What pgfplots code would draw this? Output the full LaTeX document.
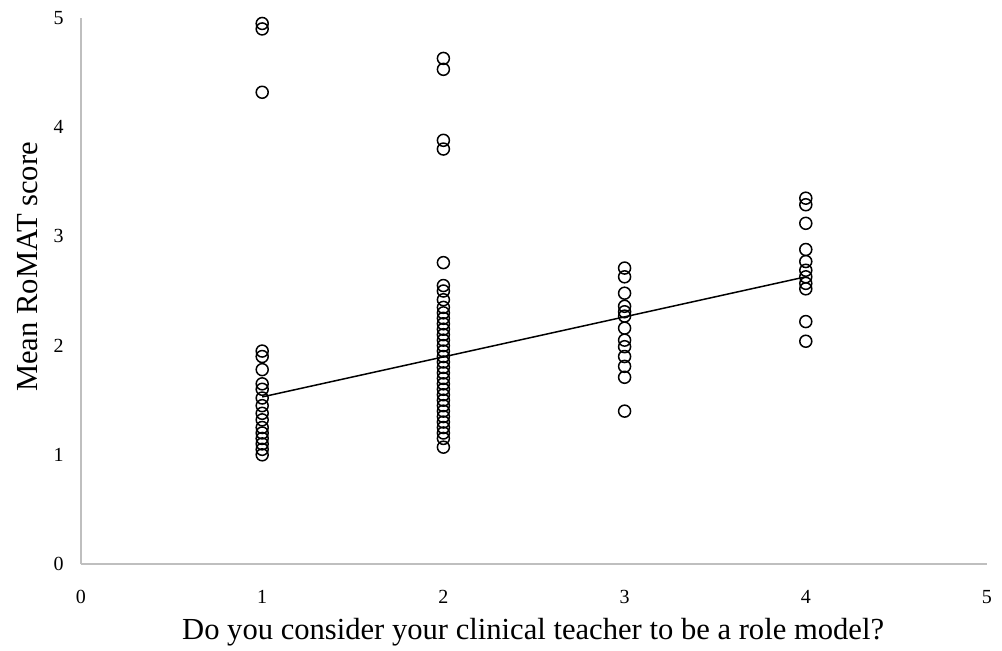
\documentclass[border=0pt]{standalone}
\usepackage{pgfplots}
\pgfplotsset{compat=1.18}
\usepackage{fontspec}
\setmainfont{Liberation Serif}
\begin{document}
\begin{tikzpicture}
\useasboundingbox (-40.5pt,-43pt) rectangle (460.5pt,282pt);
\begin{axis}[
  scale only axis, width=453pt, height=273pt,
  xmin=0, xmax=5, ymin=0, ymax=5,
  xtick={0,1,2,3,4,5}, ytick={0,1,2,3,4,5},
  axis x line=bottom, axis y line=left,
  axis line style={draw=black!25, line width=0.8pt, -},
  tick style={draw=none},
  /pgf/number format/assume math mode=true,
  tick label style={font=\fontsize{10pt}{12pt}\selectfont},
  xticklabel style={yshift=-7.5pt},
  yticklabel style={xshift=-3pt},
  xlabel={Do you consider your clinical teacher to be a role model?},
  ylabel={Mean RoMAT score},
  label style={font=\fontsize{15.3pt}{17pt}\selectfont},
  xlabel style={at={(axis description cs:0.499,-0.139)}, anchor=base},
  ylabel style={at={(axis description cs:-0.0585,0.544)}, anchor=center},
  clip=false,
]
\addplot[only marks, mark=o, mark size=3pt, mark options={line width=0.75pt, black}] coordinates {
(1,4.95) (1,4.9) (1,4.32)
(1,1.95) (1,1.9) (1,1.78) (1,1.65) (1,1.6) (1,1.52) (1,1.45) (1,1.38) (1,1.32) (1,1.25) (1,1.2) (1,1.15) (1,1.1) (1,1.05) (1,1.0)
(2,4.63) (2,4.53) (2,3.88) (2,3.8) (2,2.76) (2,2.55) (2,2.5) (2,2.42) (2,2.35) (2,2.3) (2,2.25) (2,2.2) (2,2.15) (2,2.1) (2,2.05) (2,2.0) (2,1.95) (2,1.9) (2,1.85) (2,1.8) (2,1.75) (2,1.7) (2,1.65) (2,1.6) (2,1.55) (2,1.5) (2,1.45) (2,1.4) (2,1.35) (2,1.3) (2,1.25) (2,1.2) (2,1.15) (2,1.07)
(3,2.71) (3,2.63) (3,2.48) (3,2.36) (3,2.31) (3,2.27) (3,2.16) (3,2.05) (3,1.99) (3,1.9) (3,1.81) (3,1.71) (3,1.4)
(4,3.35) (4,3.29) (4,3.12) (4,2.88) (4,2.77) (4,2.69) (4,2.63) (4,2.57) (4,2.52) (4,2.22) (4,2.04)
};
\addplot[black, line width=0.75pt] coordinates {(1,1.53) (4,2.63)};
\end{axis}
\end{tikzpicture}
\end{document}
